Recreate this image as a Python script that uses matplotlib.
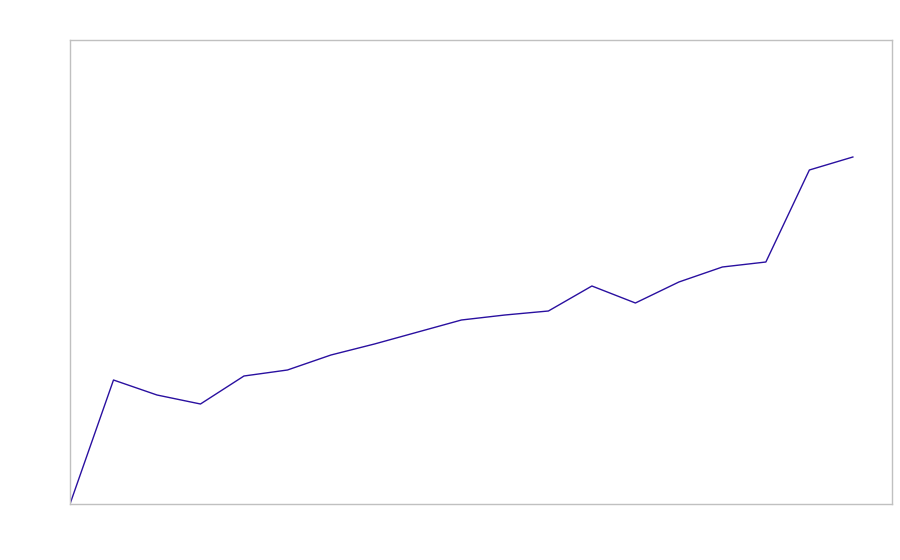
import matplotlib
matplotlib.use("Agg")
import matplotlib.pyplot as plt

x_index = list(range(19))
values = [0, 124, 109, 100, 128, 134, 149, 160, 172, 184, 189, 193, 218, 201, 222, 237, 242, 334, 347]

fig = plt.figure(figsize=(9, 5.6), dpi=100)
ax = fig.add_axes([70/900, 1-504/560, (892-70)/900, (504-40)/560])
ax.plot(x_index, values, color="#2a10a0", linewidth=1.0)
ax.set_xlim(0, 18.9)
ax.set_ylim(0, 464)
ax.set_xticks([])
ax.set_yticks([])
for s in ax.spines.values():
    s.set_color("#c0c0c0")
    s.set_linewidth(1.0)
fig.savefig("out.png", dpi=100)
